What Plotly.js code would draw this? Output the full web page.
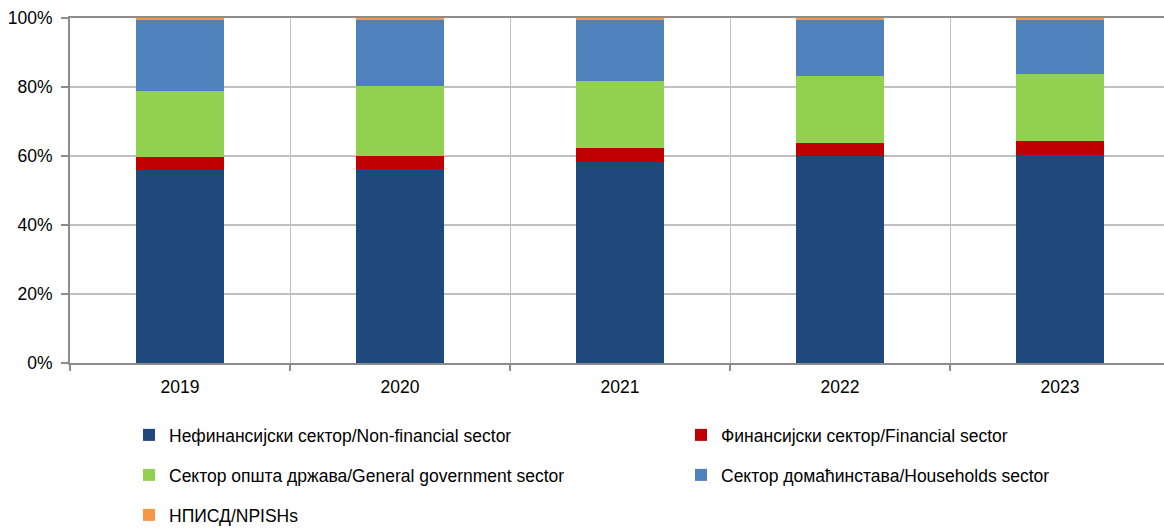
<!DOCTYPE html>
<html>
<head>
<meta charset="utf-8">
<script src="https://cdn.plot.ly/plotly-3.0.1.min.js"></script>
<style>html,body{margin:0;padding:0;background:#fff;}#chart{width:1164px;height:528px;}</style>
</head>
<body>
<div id="chart"></div>
<script>
const years = ["2019", "2020", "2021", "2022", "2023"];
const nonFinancial = [55.8, 56.1, 58.3, 60.0, 60.3];
const financial = [4.0, 4.0, 4.0, 3.9, 4.0];
const government = [19.0, 20.3, 19.4, 19.3, 19.4];
const households = [20.5, 19.0, 17.6, 16.2, 15.7];
const npish = [0.7, 0.6, 0.7, 0.6, 0.6];
const yTicks = [0, 20, 40, 60, 80, 100];
const yTickLabels = ["0%", "20%", "40%", "60%", "80%", "100%"];
const seriesNames = [
  "Нефинансијски сектор/Non-financial sector",
  "Финансијски сектор/Financial sector",
  "Сектор општа држава/General government sector",
  "Сектор домаћинстава/Households sector",
  "НПИСД/NPISHs"
];
const colors = ["#1F497D", "#C00000", "#92D050", "#4F81BD", "#F79646"];
const seriesData = [nonFinancial, financial, government, households, npish];
const legendIds = ["legend", "legend2", "legend3", "legend4", "legend5"];

const FONT = "'Liberation Sans', Arial, sans-serif";
const traces = seriesData.map((vals, i) => ({
  type: "bar",
  x: years,
  y: vals,
  name: seriesNames[i],
  marker: { color: colors[i], line: { width: 0 } },
  legend: legendIds[i],
  hoverinfo: "skip"
}));
// invisible trace so the overlaying axis draws the category-boundary gridlines
traces.push({
  type: "scatter", x: [-0.5], y: [0], xaxis: "x2", mode: "markers",
  marker: { opacity: 0 }, showlegend: false, hoverinfo: "skip"
});

const W = 1164, H = 528;
const plotW = W - 70;
const xMax = -0.5 + plotW / 220;
function leg(px, py) {
  return {
    orientation: "h", xanchor: "left", yanchor: "middle",
    xref: "container", yref: "container",
    x: px / W, y: 1 - py / H,
    font: { family: FONT, size: 17.5, color: "#000" },
    bgcolor: "rgba(0,0,0,0)"
  };
}

const layout = {
  width: W, height: H,
  margin: { l: 70, r: 0, t: 18, b: 165, autoexpand: false },
  paper_bgcolor: "#fff", plot_bgcolor: "#fff",
  barmode: "stack", bargap: 0.6,
  font: { family: FONT, size: 17, color: "#000" },
  xaxis: {
    type: "category", range: [-0.5, xMax], showgrid: false,
    showline: false, ticks: "", zeroline: false, automargin: false,
    ticklabelstandoff: 11,
    tickfont: { family: FONT, size: 17.5, color: "#000" }
  },
  xaxis2: {
    overlaying: "x", type: "linear", range: [-0.5, xMax],
    tickvals: [-0.5, 0.5, 1.5, 2.5, 3.5, 4.5], showticklabels: false,
    showgrid: true, gridcolor: "#c0c0c0", gridwidth: 1,
    showline: true, linecolor: "#8c8c8c", linewidth: 2, mirror: true,
    ticks: "outside", ticklen: 6, tickwidth: 2, tickcolor: "#8c8c8c",
    zeroline: false, automargin: false
  },
  yaxis: {
    range: [0, 100], tickvals: yTicks, ticktext: yTickLabels,
    showgrid: true, gridcolor: "#c0c0c0", gridwidth: 1.5,
    showline: true, linecolor: "#8c8c8c", linewidth: 2,
    ticks: "outside", ticklen: 7, tickwidth: 2, tickcolor: "#8c8c8c",
    zeroline: false, automargin: false, ticklabelstandoff: 5,
    tickfont: { family: FONT, size: 17.5, color: "#000" }
  },
  legend: leg(129, 435),
  legend2: leg(681, 435),
  legend3: leg(129, 475),
  legend4: leg(681, 475),
  legend5: leg(129, 515),
  showlegend: true
};

Plotly.newPlot("chart", traces, layout, { displayModeBar: false, staticPlot: true });
</script>
</body>
</html>
